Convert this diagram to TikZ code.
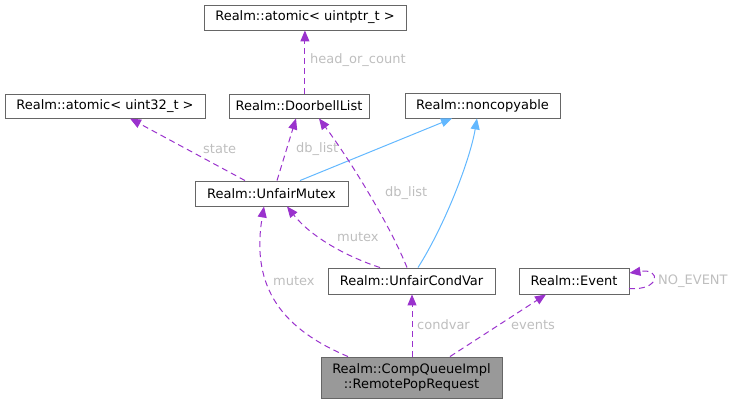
\documentclass[tikz,border=0pt]{standalone}
\usepackage{fontspec}
\setmainfont{DejaVu Sans}
\usetikzlibrary{arrows.meta}
\definecolor{edgepurple}{HTML}{9A32CD}
\definecolor{edgeblue}{HTML}{63B8FF}
\definecolor{lblgray}{HTML}{BEBEBE}
\definecolor{boxgray}{HTML}{666666}
\definecolor{fillgray}{HTML}{999999}
\tikzset{
  cls/.style={draw=boxgray, line width=0.9pt, fill=white, inner sep=0pt, font=\fontsize{13}{15}\selectfont, align=center},
  use/.style={draw=edgepurple, line width=1pt, dash pattern=on 6pt off 4pt, -{Triangle[length=11pt,width=9pt]}},
  inh/.style={draw=edgeblue, line width=1pt, -{Triangle[length=11pt,width=9pt]}},
  lbl/.style={text=lblgray, font=\fontsize{13}{15}\selectfont, inner sep=0pt, anchor=west},
}
\begin{document}
\begin{tikzpicture}[x=1pt,y=-1pt]
\useasboundingbox (0,0) rectangle (733,403);
\node[cls, minimum width=202pt, minimum height=25pt] (uptr) at (305,17.5) {Realm::atomic< uintptr\_t >};
\node[cls, minimum width=200pt, minimum height=24pt] (u32) at (105,106) {Realm::atomic< uint32\_t >};
\node[cls, minimum width=140pt, minimum height=24pt] (dbl) at (299,106) {Realm::DoorbellList};
\node[cls, minimum width=155pt, minimum height=25pt] (nc) at (482.5,105.5) {Realm::noncopyable};
\node[cls, minimum width=153pt, minimum height=25pt] (um) at (271.5,193.5) {Realm::UnfairMutex};
\node[cls, minimum width=167pt, minimum height=26pt] (ucv) at (411.5,281) {Realm::UnfairCondVar};
\node[cls, minimum width=110pt, minimum height=26pt] (ev) at (574,281) {Realm::Event};
\node[cls, fill=fillgray, minimum width=181pt, minimum height=41pt] (rpr) at (411.5,377.5) {Realm::CompQueueImpl\\::RemotePopRequest};

% DoorbellList -> atomic uintptr
\draw[use] (dbl.north -| 304.9,0) -- (uptr.south -| 304.9,0);
\node[lbl] (l1) at (310,60) {head\_or\_count};

% UnfairMutex -> atomic uint32
\draw[use] (um.north -| 245,0) -- (130,118.5);
\node[lbl] (l2) at (203,149) {state};
% UnfairMutex -> DoorbellList
\draw[use] (um.north -| 277,0) -- (dbl.south -| 296,0);
\node[lbl] (l3) at (296,149) {db\_list};
% UnfairMutex -> noncopyable
\draw[inh] (um.north -| 300,0) -- (nc.south -| 452,0);

% UnfairCondVar -> DoorbellList
\draw[use] (ucv.north -| 407,0) .. controls (390,225) and (350,160) .. (dbl.south -| 319,0);
\node[lbl] (l4) at (385,193) {db\_list};
% UnfairCondVar -> noncopyable
\draw[inh] (ucv.north -| 418,0) .. controls (445,225) and (470,160) .. (nc.south -| 477,0);
% UnfairCondVar -> UnfairMutex
\draw[use] (ucv.north -| 380,0) .. controls (348,257) and (312,238) .. (um.south -| 287,0);
\node[lbl] (l5) at (337,237) {mutex};

% RemotePopRequest -> UnfairMutex
\draw[use] (rpr.north -| 348,0) .. controls (285,330) and (250,290) .. (um.south -| 264,0);
\node[lbl] (l6) at (273,281) {mutex};
% RemotePopRequest -> UnfairCondVar
\draw[use] (rpr.north -| 412,0) -- (ucv.south -| 412,0);
\node[lbl] (l7) at (417,325) {condvar};
% RemotePopRequest -> Event
\draw[use] (rpr.north -| 450,0) -- (ev.south -| 546,0);
\node[lbl] (l8) at (511,325) {events};
% Event self loop
\coordinate (evs) at (629,288.5);
\draw[use] (evs) .. controls (660,291) and (662,268) .. (ev.east |- 0,273);
\node[lbl] (l9) at (658,281) {NO\_EVENT};
\end{tikzpicture}
\end{document}
